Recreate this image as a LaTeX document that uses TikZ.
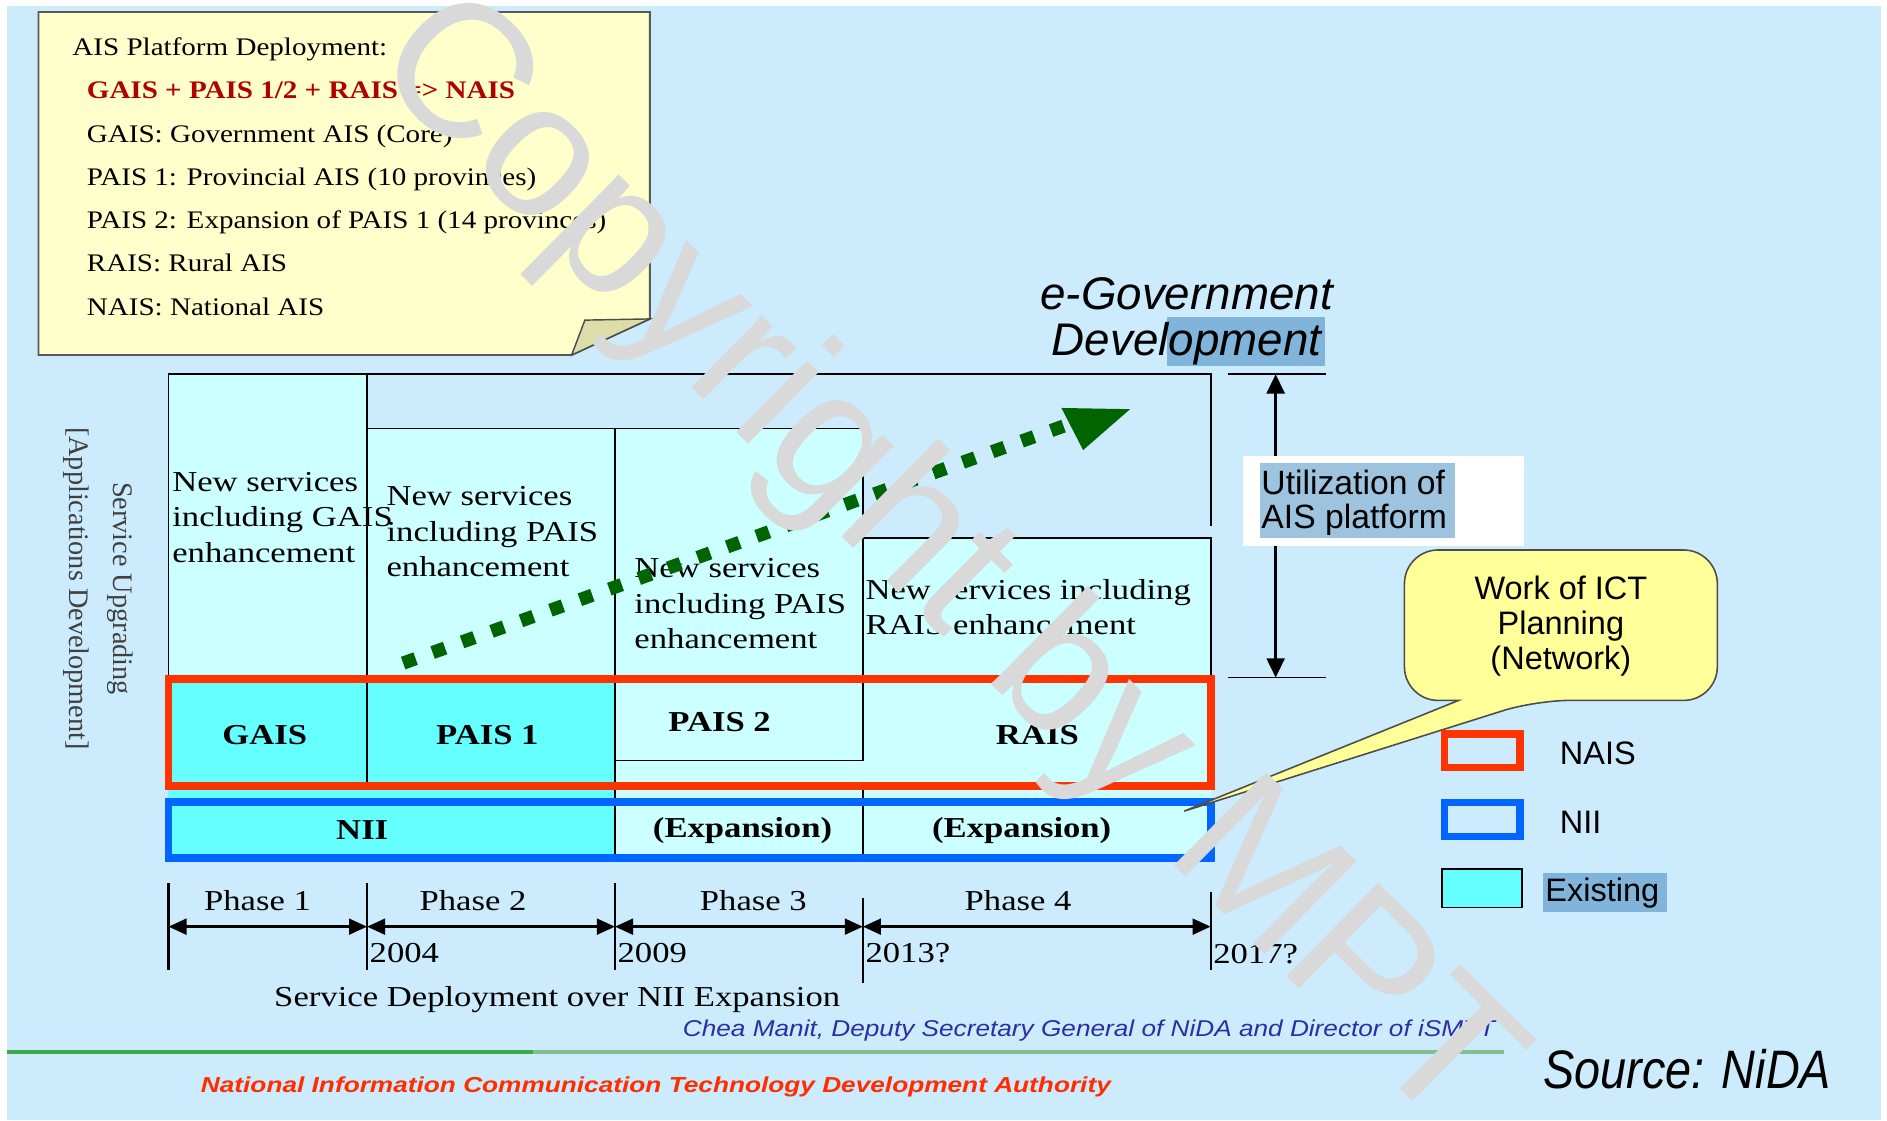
\documentclass[tikz,border=0pt]{standalone}
\usepackage{fontspec}
\usepackage{graphicx}
\setmainfont{Liberation Serif}
\setsansfont{Liberation Sans}
\newfontfamily\tabfont{Liberation Serif}[FakeStretch=1.2]
\newfontfamily\notefont{Liberation Serif}[FakeStretch=1.15]
\usetikzlibrary{arrows.meta}
\definecolor{bgblue}{RGB}{204,235,253}
\definecolor{notefill}{RGB}{255,255,204}
\definecolor{foldfill}{RGB}{221,221,170}
\definecolor{cellcyan}{RGB}{204,255,255}
\definecolor{exist}{RGB}{102,255,255}
\definecolor{naisred}{RGB}{255,51,0}
\definecolor{niiblue}{RGB}{0,102,255}
\definecolor{arrowgreen}{RGB}{0,100,0}
\definecolor{hlblue}{RGB}{128,180,218}
\definecolor{hlblue2}{RGB}{157,195,222}
\definecolor{callfill}{RGB}{255,255,153}
\definecolor{credit}{RGB}{45,45,165}
\definecolor{footred}{RGB}{255,45,0}
\definecolor{darkred}{RGB}{176,0,0}
\definecolor{wmgray}{RGB}{217,217,217}
\definecolor{linegreen}{RGB}{60,170,75}
\definecolor{linegreen2}{RGB}{130,190,145}
\newcommand{\tabsz}{\fontsize{24}{29.5}\selectfont\tabfont}
\newcommand{\notesz}{\fontsize{21}{25}\selectfont\notefont}
\begin{document}
\begin{tikzpicture}[x=1pt,y=-1pt,
  tline/.style={draw=black,line width=1.5pt},
  celltext/.style={anchor=north west,inner sep=0pt,align=left,font=\tabsz},
  boldlab/.style={inner sep=0pt,font=\tabsz\bfseries},
  notetext/.style={anchor=base west,inner sep=0pt,font=\notesz},
  phase/.style={inner sep=0pt,font=\tabsz},
  yeartext/.style={anchor=west,inner sep=0pt,font=\tabsz},
  tick/.style={draw=black,line width=1.8pt},
  span/.style={draw=black,line width=2.5pt,{Triangle[length=15pt,width=13pt]}-{Triangle[length=15pt,width=13pt]}},
  legtext/.style={anchor=west,inner sep=0pt,font=\fontsize{27}{27}\selectfont\sffamily}
]
\useasboundingbox (0,0) rectangle (1568,931);
\fill[white] (0,0) rectangle (1568,931);
\fill[bgblue] (6,5) rectangle (1563,931);

% ---------- yellow note ----------
\path[fill=notefill,draw=black!65,line width=1.5pt] (32,10) -- (540,10) -- (540,265) -- (475,295) -- (32,295) -- cycle;
\path[fill=foldfill,draw=black!70,line width=1.2pt] (475,295) -- (486,266) -- (540,265) -- cycle;
\node[notetext] (n0) at (60,46) {AIS Platform Deployment:};
\node[notetext,text=darkred,font=\notesz\bfseries] (n1) at (72,82) {GAIS + PAIS 1/2 + RAIS => NAIS};
\node[notetext] (n2) at (72,118) {GAIS: Government AIS (Core)};
\node[notetext] (n3) at (72,154) {PAIS 1: Provincial AIS (10 provinces)};
\node[notetext] (n4) at (72,190) {PAIS 2: Expansion of PAIS 1 (14 provinces)};
\node[notetext] (n5) at (72,226) {RAIS: Rural AIS};
\node[notetext] (n6) at (72,262) {NAIS: National AIS};

% ---------- e-Government title ----------
\fill[hlblue] (970,263) rectangle (1101,304);
\node[align=center,inner sep=0pt,font=\fontsize{38}{38}\selectfont\sffamily\itshape] (egov) at (986,267) {e-Government\\Development};

% ---------- table fills ----------
\fill[cellcyan] (140,311) rectangle (305,563);
\fill[cellcyan] (305,356) rectangle (717,563);
\fill[cellcyan] (717,447) rectangle (1006,563);
\fill[cellcyan] (511,563) rectangle (1006,712);
\fill[exist] (140,563) rectangle (511,712);

% ---------- table lines ----------
\draw[tline] (140,563) -- (140,311) -- (1006,311) -- (1006,437);
\draw[tline] (305,311) -- (305,655);
\draw[tline] (305,356) -- (717,356);
\draw[tline] (511,356) -- (511,712);
\draw[tline] (717,356) -- (717,632);
\draw[tline] (511,632) -- (717,632);
\draw[tline] (717,447) -- (1006,447) -- (1006,563);
\draw[tline] (717,655) -- (717,712);

% ---------- cell texts ----------
\node[celltext] (c1) at (143,392) {New services\\including GAIS\\enhancement};
\node[celltext] (c2) at (321,404) {New services\\including PAIS\\enhancement};
\node[celltext] (c3) at (527,464) {New services\\including PAIS\\enhancement};
\node[celltext] (c4) at (719,481) {New services including\\RAIS enhancement};

% ---------- NAIS / NII boxes ----------
\draw[naisred,line width=6.5pt] (140,564.5) rectangle (1006,653);
\draw[niiblue,line width=6.5pt] (140,666.5) rectangle (1006,713);
\node[boldlab] (gais) at (220,611) {GAIS};
\node[boldlab] (pais1) at (405,611) {PAIS 1};
\node[boldlab] (pais2) at (598,600) {PAIS 2};
\node[boldlab] (rais) at (862,611) {RAIS};
\node[boldlab] (nii) at (301,690) {NII};
\node[boldlab] (exp1) at (617,690) {(Expansion)};
\node[boldlab] (exp2) at (849,690) {(Expansion)};

% ---------- green dotted arrow ----------
\coordinate (gstart) at (335,551);
\coordinate (gend) at (884,354);
\draw[arrowgreen,line width=11pt,dash pattern=on 11pt off 15pt] (gstart) -- (gend);
\fill[arrowgreen] (882,339) -- (939,340) -- (900,374) -- cycle;

% ---------- left vertical labels ----------
\node[rotate=-90,inner sep=0pt,text=black!75,font=\fontsize{23.5}{23.5}\selectfont] (su) at (100,489) {Service Upgrading};
\node[rotate=-90,inner sep=0pt,text=black!75,font=\fontsize{23.5}{23.5}\selectfont] (ad) at (63,489) {[Applications Development]};

% ---------- utilization arrow ----------
\coordinate (utop) at (1060,311);
\coordinate (ubot) at (1060,563);
\draw[line width=1.5pt] (1020,311) -- (1102,311);
\draw[line width=1.5pt] (1020,563) -- (1102,563);
\draw[line width=2pt,{Triangle[length=16pt,width=15pt]}-{Triangle[length=16pt,width=15pt]}] (utop) -- (ubot);
\fill[white] (1033,379) rectangle (1266,454);
\fill[hlblue2] (1047,385) rectangle (1209,447);
\node[anchor=west,align=left,inner sep=0pt,font=\fontsize{28}{28}\selectfont\sffamily] (util) at (1048,418) {Utilization of\\AIS platform};

% ---------- callout ----------
\path[fill=callfill,draw=black!70,line width=1.3pt] (1167,520) [rounded corners=28pt] -- (1167,457) -- (1427,457) -- (1427,582) -- (1276,582) [sharp corners] -- (984,674) -- (1212,582) [rounded corners=28pt] -- (1167,582) -- cycle;
\node[align=center,inner sep=0pt,font=\fontsize{27}{29}\selectfont\sffamily] (ict) at (1297,520) {Work of ICT\\Planning\\(Network)};

% ---------- legend ----------
\draw[naisred,line width=6pt] (1200,610) rectangle (1263,638);
\draw[niiblue,line width=6pt] (1200,667) rectangle (1263,695);
\draw[fill=exist,draw=black,line width=1.5pt] (1198,722) rectangle (1265,754);
\node[legtext] (lnais) at (1296,626) {NAIS};
\node[legtext] (lnii) at (1296,683) {NII};
\fill[hlblue] (1282,725) rectangle (1385,758);
\node[legtext] (lex) at (1284,742) {Existing};

% ---------- timeline ----------
\coordinate (t0) at (140,770);
\coordinate (t1) at (305,770);
\coordinate (t2) at (511,770);
\coordinate (t3) at (717,770);
\coordinate (t4) at (1006,770);
\draw[tick] (140,734) -- (140,806);
\draw[tick] (305,734) -- (305,806);
\draw[tick] (511,734) -- (511,806);
\draw[tick] (717,746) -- (717,817);
\draw[tick] (1006,741) -- (1006,806);
\draw[span] (t0) -- (t1);
\draw[span] (t1) -- (t2);
\draw[span] (t2) -- (t3);
\draw[span] (t3) -- (t4);
\node[phase] (p1) at (214,748) {Phase 1};
\node[phase] (p2) at (393,748) {Phase 2};
\node[phase] (p3) at (626,748) {Phase 3};
\node[phase] (p4) at (846,748) {Phase 4};
\node[yeartext] (y1) at (307,792) {2004};
\node[yeartext] (y2) at (513,792) {2009};
\node[yeartext] (y3) at (719,792) {2013?};
\node[yeartext] (y4) at (1008,793) {2017?};
\node[phase] (sdep) at (463,831) {Service Deployment over NII Expansion};

% ---------- credits / footer ----------
\node[inner sep=0pt,text=credit] (cred) at (905,856) {\resizebox{675pt}{\height}{\fontsize{19}{19}\selectfont\sffamily\itshape Chea Manit, Deputy Secretary General of NiDA and Director of iSMTT}};
\draw[linegreen,line width=3pt] (6,874) -- (443,874);
\draw[linegreen2,line width=3pt] (443,874) -- (1250,874);
\node[inner sep=0pt,text=footred] (foot) at (545,903) {\resizebox{756pt}{\height}{\fontsize{18}{18}\selectfont\sffamily\bfseries\itshape National Information Communication Technology Development Authority}};
\node[inner sep=0pt] (src) at (1402,888) {\resizebox{239pt}{\height}{\fontsize{45}{45}\selectfont\sffamily\itshape Source: NiDA}};

% ---------- watermark ----------
\node[anchor=base west,inner sep=0pt,rotate=-44.7,text=wmgray,font=\fontsize{158}{158}\selectfont\sffamily] (wm) at (305,55) {Copyright by MPT};
\end{tikzpicture}
\end{document}
